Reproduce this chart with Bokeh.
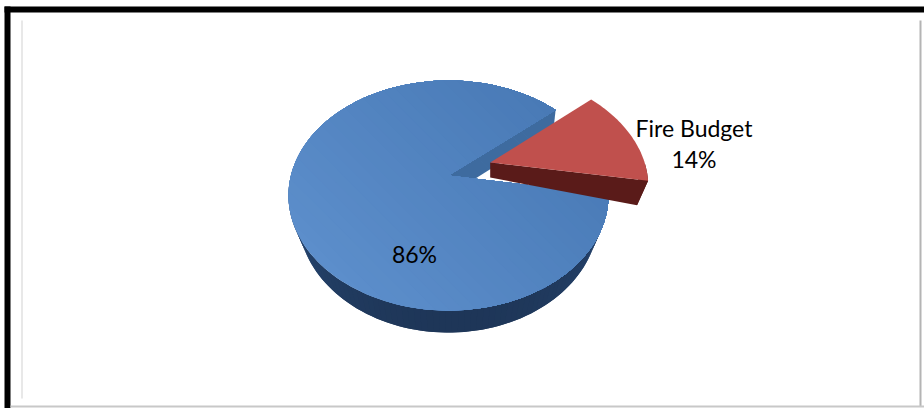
import math
from bokeh.core.properties import value
from bokeh.embed import file_html
from bokeh.models import Range1d
from bokeh.plotting import figure
from bokeh.resources import INLINE

# Budget shares, in percent
slices = ["Other", "Fire Budget"]
shares = [86, 14]
share_labels = ["86%", "Fire Budget\n14%"]

# Projection of the tilted disc onto the page
CX, CY = 448.0, 175.0
RX, RY, PERSP = 157.6, 111.5, 0.174
CENTRE_ANGLE_RED = 15.6          # direction the small slice faces, degrees
EXPLODE = (0.27, 0.119)          # offset of the pulled-out slice, disc units


def project(x, y):
    d = 1 + PERSP * y
    return CX + RX * x / d, CY - RY * y / d


def lower_blue(pt, squeeze=0.94):
    x, y = pt
    return CX + (x - CX) * squeeze, y + 19 + (y - 105) * 0.015


def lower_red(pt, apex_x):
    x, y = pt
    off = x - apex_x
    return x - off * 0.07, y + 15 + off * 0.06


def mix(a, b, t):
    t = max(0.0, min(1.0, t))
    return "#%02x%02x%02x" % tuple(round(a[i] + (b[i] - a[i]) * t) for i in range(3))


def clip(poly, nx, ny, c):
    """Keep the part of a polygon where nx*x + ny*y >= c."""
    out = []
    for i, p0 in enumerate(poly):
        q = poly[(i + 1) % len(poly)]
        dp = nx * p0[0] + ny * p0[1] - c
        dq = nx * q[0] + ny * q[1] - c
        if dp >= 0:
            out.append(p0)
        if dp * dq < 0:
            t = dp / (dp - dq)
            out.append((p0[0] + (q[0] - p0[0]) * t, p0[1] + (q[1] - p0[1]) * t))
    return out


p = figure(width=924, height=408, x_range=Range1d(0, 924), y_range=Range1d(408, 0),
           toolbar_location=None, output_backend="svg", min_border=0,
           x_axis_type=None, y_axis_type=None, outline_line_color=None,
           background_fill_color="white", border_fill_color="white")
p.grid.visible = False


def patch(poly, colour):
    p.patch([q[0] for q in poly], [q[1] for q in poly], fill_color=colour, line_color=None)


# Frame around the chart
p.quad(left=4, right=924, top=6, bottom=12, fill_color="black", line_color=None)
p.quad(left=4, right=10, top=6, bottom=408, fill_color="black", line_color=None)
p.quad(left=20.5, right=22.5, top=20, bottom=398, fill_color="#e8e8e8", line_color=None)
p.quad(left=919, right=921, top=20, bottom=406, fill_color="#b4b4b4", line_color=None)
p.quad(left=10, right=924, top=405, bottom=407, fill_color="#c8c8c8", line_color=None)

# Slice angles: the small slice is centred on its facing direction
span_red = shares[1] / sum(shares) * 360
a_low = CENTRE_ANGLE_RED - span_red / 2
a_high = CENTRE_ANGLE_RED + span_red / 2
span_blue = 360 - span_red

STEPS = 160
blue_rim = [project(math.cos(math.radians(a_high + span_blue * i / STEPS)),
                    math.sin(math.radians(a_high + span_blue * i / STEPS))) for i in range(STEPS + 1)]
apex = project(0, 0)

# Cut wall of the large slice
patch([apex, blue_rim[0], lower_blue(blue_rim[0], 0.98), lower_blue(apex)], "#3e6b9f")

# Outer wall of the large slice, darkest at the front. Each piece overlaps the
# next so no seams show between the shades.
side_dark, side_light = (30, 54, 88), (44, 80, 128)
for i in range(STEPS - 1, -1, -1):
    a0 = a_high + span_blue * i / STEPS
    s = math.sin(math.radians(a0 + span_blue / (2 * STEPS)))
    if s > 0.12:
        continue
    arc = blue_rim[i:min(i + 3, STEPS + 1)]
    patch(arc + [lower_blue(q) for q in reversed(arc)], mix(side_dark, side_light, (s + 1) * 0.9))

# Top of the large slice, lighter towards the lower left; each band paints
# everything from its edge onward, so later bands overlap earlier ones.
top_face = [apex] + blue_rim
light, deep = (92, 142, 203), (73, 122, 182)
vals = [q[0] - q[1] for q in top_face]
lo, hi = min(vals), max(vals)
bands = 28
for b in range(bands):
    part = clip(top_face, 1, -1, lo + (hi - lo) * b / bands) if b else top_face
    if len(part) >= 3:
        patch(part, mix(light, deep, (b + 0.5) / bands))

# Pulled-out small slice
red_pts = []
for i in range(41):
    a = math.radians(a_low + span_red * i / 40)
    red_pts.append(project(math.cos(a) + EXPLODE[0], math.sin(a) + EXPLODE[1]))
red_apex = project(*EXPLODE)
low = lambda q: lower_red(q, red_apex[0])
rim_front = [q for q in red_pts[:8]]
patch(rim_front + [low(q) for q in reversed(rim_front)], "#5c1c1a")
patch([red_apex, red_pts[0], low(red_pts[0]), low(red_apex)], "#5a1b19")
patch([red_apex] + red_pts, "#c0504d")

# Labels
label_font = value("Lato")
p.text(x=[414], y=[253], text=[share_labels[0]], text_font=label_font, text_font_size="23px",
       text_align="center", text_baseline="alphabetic", text_color="#000000")
for line, y in zip(share_labels[1].split("\n"), [127, 158]):
    p.text(x=[693.5], y=[y], text=[line], text_font=label_font, text_font_size="23px",
           text_align="center", text_baseline="alphabetic", text_color="#000000")

open("out.html", "w").write(file_html(p, INLINE))
